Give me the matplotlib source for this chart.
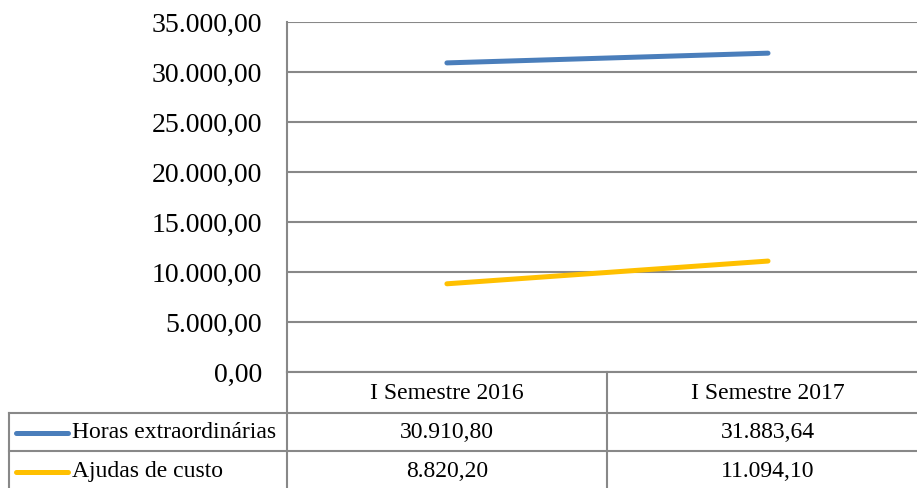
import matplotlib
matplotlib.use("Agg")
from matplotlib import pyplot as plt

plt.rcParams['font.family'] = ['Liberation Serif', 'DejaVu Serif']

categories = ["I Semestre 2016", "I Semestre 2017"]
series_names = ["Horas extraordinárias", "Ajudas de custo"]
horas = [30910.80, 31883.64]
ajudas = [8820.20, 11094.10]
colors = ["#4A7EBB", "#FFC000"]
y_ticks = [0, 5000, 10000, 15000, 20000, 25000, 30000, 35000]


def fmt_pt(v):
    s = f"{v:,.2f}"
    return s.replace(",", "X").replace(".", ",").replace("X", ".")


W, H = 917, 488
fig = plt.figure(figsize=(W / 100, H / 100), dpi=100)
grid_col = "#888888"

# plot area in pixels
left, right, top, bottom = 287, 917, 22, 372
ax = fig.add_axes([left / W, 1 - bottom / H, (right - left) / W, (bottom - top) / H])

xs = list(range(len(categories)))
for vals, c in zip([horas, ajudas], colors):
    ax.plot(xs, vals, color=c, lw=3.6, solid_capstyle="round")

ax.set_xlim(-0.498, 1.464)
ax.set_ylim(0, 35000)
ax.set_yticks(y_ticks)
ax.set_yticklabels([fmt_pt(v) for v in y_ticks], fontsize=20)
ax.set_xticks([])
ax.tick_params(axis="y", length=0, pad=18)
ax.grid(axis="y", color=grid_col, lw=1.5)
ax.set_axisbelow(True)
for s in ["top", "right", "bottom"]:
    ax.spines[s].set_visible(False)
ax.spines["left"].set_color(grid_col)
ax.spines["left"].set_linewidth(1.5)

# overlay in pixel coordinates for the data table
ov = fig.add_axes([0, 0, 1, 1])
ov.set_xlim(0, W)
ov.set_ylim(H, 0)
ov.axis("off")
ov.patch.set_alpha(0)

# category centers in pixels from the data axis
cx = [ax.transData.transform((x, 0))[0] for x in xs]
mid = (cx[0] + cx[1]) / 2

rows_y = [372, 413, 451, 490]
tl = dict(color=grid_col, lw=1.5)
ov.plot([left, W], [rows_y[0], rows_y[0]], **tl)
ov.plot([9, W], [rows_y[1], rows_y[1]], **tl)
ov.plot([9, W], [rows_y[2], rows_y[2]], **tl)
ov.plot([9, 9], [rows_y[1], H], **tl)
ov.plot([left, left], [rows_y[0], H], **tl)
ov.plot([mid, mid], [rows_y[0], H], **tl)

for x, cat in zip(cx, categories):
    ov.text(x, (rows_y[0] + rows_y[1]) / 2 + 1, cat, ha="center", va="center", fontsize=17)

for i, (name, vals, c) in enumerate(zip(series_names, [horas, ajudas], colors)):
    yc = (rows_y[i + 1] + rows_y[i + 2]) / 2 + 1
    ov.plot([16, 68], [yc, yc], color=c, lw=3.6, solid_capstyle="round")
    ov.text(72, yc, name, ha="left", va="center", fontsize=17)
    for x, v in zip(cx, vals):
        ov.text(x, yc, fmt_pt(v), ha="center", va="center", fontsize=17)

fig.savefig("out.png", dpi=100)
